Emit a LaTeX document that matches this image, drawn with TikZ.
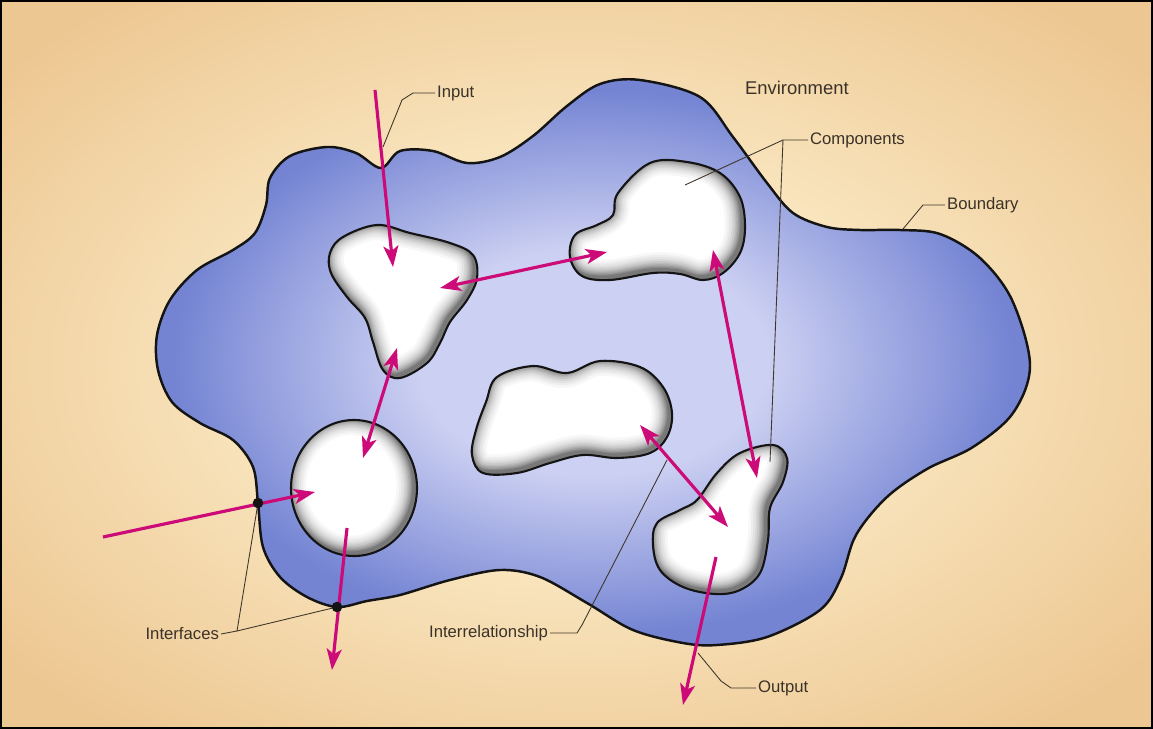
\documentclass[tikz,border=0pt]{standalone}
\usepackage{fontspec}
\setmainfont{Liberation Sans}
\usepackage{tikz}
\usetikzlibrary{arrows.meta}
\definecolor{bglight}{RGB}{249,229,190}
\definecolor{bgdark}{RGB}{237,199,146}
\definecolor{bloblight}{RGB}{204,208,242}
\definecolor{blobdark}{RGB}{116,132,211}
\definecolor{figline}{RGB}{20,20,20}
\definecolor{leadline}{RGB}{62,54,42}
\definecolor{figtext}{RGB}{58,50,40}
\definecolor{flowmag}{RGB}{204,10,120}
\pgfdeclareradialshading{bgshade}{\pgfpoint{0bp}{0bp}}{color(0bp)=(bglight); color(14bp)=(bglight); color(32bp)=(bgdark); color(50bp)=(bgdark)}
\pgfdeclareradialshading{blobshade}{\pgfpoint{0bp}{0bp}}{color(0bp)=(bloblight); color(10bp)=(bloblight); color(24bp)=(blobdark); color(50bp)=(blobdark)}
\tikzset{
  sysline/.style ={draw=figline, line width=1.4pt},
  cmpline/.style ={draw=figline, line width=1.2pt},
  lead/.style    ={draw=leadline, line width=0.5pt},
  lbl/.style     ={font=\fontsize{9.5}{11}\selectfont, text=figtext, inner sep=1pt},
  envlbl/.style  ={font=\fontsize{10.5}{12}\selectfont, text=figtext, inner sep=1pt},
  flow/.style    ={draw=flowmag, line width=1.8pt, -{Stealth[length=12pt,width=8.5pt,inset=3pt]}},
  flowtwo/.style ={draw=flowmag, line width=1.8pt, {Stealth[length=12pt,width=8.5pt,inset=3pt]}-{Stealth[length=12pt,width=8.5pt,inset=3pt]}},
}
% outlines, in pixel units of the picture
\newcommand\syspath{plot[smooth cycle,tension=0.55] coordinates {(258,503) (263,547) (280,577) (307,597) (337,607) (367,601) (400,595) (450,580) (500,570) (540,577) (587,603) (633,630) (683,643) (717,645) (767,637) (820,610) (841,578) (856,535) (887,497) (927,469) (973,447) (1013,413) (1030,365) (1012,300) (980,258) (940,234) (900,230) (860,230) (827,227) (793,213) (767,183) (733,137) (700,97) (640,80) (600,84) (567,106) (533,136) (500,157) (467,163) (433,151) (400,151) (381,168) (356,153) (327,147) (290,156) (270,178) (266,205) (255,233) (233,250) (197,270) (170,300) (157,335) (158,370) (172,402) (200,423) (233,440) (253,467)}}
\newcommand\cmpA{plot[smooth cycle,tension=0.6] coordinates {(330,253) (343,237) (377,225) (410,233) (450,243) (473,255) (477,278) (467,300) (450,322) (440,343) (427,363) (400,378) (383,370) (373,342) (365,318) (347,297) (331,273)}}
\newcommand\cmpB{plot[smooth cycle,tension=0.6] coordinates {(618,193) (650,163) (687,162) (720,173) (740,197) (745,227) (740,253) (723,273) (703,280) (680,274) (653,273) (610,280) (582,276) (570,257) (575,235) (597,225) (613,215)}}
\newcommand\cmpC{plot[smooth cycle,tension=0.6] coordinates {(497,377) (533,366) (567,373) (600,361) (640,367) (663,387) (672,413) (667,437) (650,453) (617,458) (583,455) (550,463) (517,473) (483,473) (472,455) (476,430) (486,402)}}
\newcommand\cmpD{(354,488) ellipse [x radius=1.26cm, y radius=1.36cm]}
\newcommand\cmpE{plot[smooth cycle,tension=0.6] coordinates {(657,523) (680,510) (697,500) (717,473) (740,453) (773,445) (787,458) (783,482) (770,508) (768,540) (760,573) (740,590) (715,594) (683,587) (660,570) (653,545)}}
\newcommand\cmpshadow[1]{%
  \begin{scope}
    \clip #1;
    \fill[white] #1;
    \foreach \w/\c in {20/3, 17/7, 14.5/11, 12/16, 10/21, 8/27, 6.5/33, 5/39, 3.5/46, 2.2/53}
      \draw[shift={(-1.5pt,1.5pt)}, line width=\w pt, draw=black!\c] #1;
  \end{scope}
  \draw[cmpline] #1;}

\begin{document}
\begin{tikzpicture}[x=0.02cm,y=-0.02cm]
  \useasboundingbox (0,0) rectangle (1153,729);
  \shade[shading=bgshade] (0,0) rectangle (1153,729);
  \draw[line width=1.2pt] (1,1) rectangle (1152,728);
  % system
  \shade[shading=blobshade] \syspath;
  \cmpshadow{\cmpA}
  \cmpshadow{\cmpB}
  \cmpshadow{\cmpC}
  \cmpshadow{\cmpD}
  \cmpshadow{\cmpE}
  \draw[sysline] \syspath;
  % labels
  \node[lbl, anchor=west] (lblin) at (435,93) {Input};
  \node[envlbl, anchor=west] (lblenv) at (743,88) {Environment};
  \node[lbl, anchor=west] (lblcmp) at (808,140) {Components};
  \node[lbl, anchor=west] (lblbnd) at (945,205) {Boundary};
  \node[lbl, anchor=east] (lblif) at (221,634) {Interfaces};
  \node[lbl, anchor=east] (lblrel) at (550,633) {Interrelationship};
  \node[lbl, anchor=west] (lblout) at (756,688) {Output};
  % leader ends
  \coordinate (ifa) at (258,503);
  \coordinate (ifb) at (337,607);
  \coordinate (ifk) at (237,631);
  \coordinate (cmpk) at (783,140);
  \coordinate (cmptop) at (685,185);
  \coordinate (cmpbot) at (770,462);
  \coordinate (bndk) at (923,205);
  \coordinate (bndp) at (903,229);
  \coordinate (ink) at (413,93);
  \coordinate (inp) at (383,147);
  \coordinate (relk) at (577,633);
  \coordinate (relp) at (667,460);
  \coordinate (outk) at (731,688);
  \coordinate (outp) at (698,653);
  % leaders
  \draw[lead] (lblin.west) -- (ink) -- (402,100) -- (inp);
  \draw[lead] (lblcmp.west) -- (cmpk) -- (cmptop);
  \draw[lead] (cmpk) -- (cmpbot);
  \draw[lead] (lblbnd.west) -- (bndk) -- (bndp);
  \draw[lead] (lblif.east) -- (ifk) -- (ifa);
  \draw[lead] (ifk) -- (ifb);
  \draw[lead] (lblrel.east) -- (relk) -- (582,625) -- (relp);
  \draw[lead] (lblout.west) -- (outk) -- (721,681) -- (outp);
  % flows
  \coordinate (in1s) at (375,90);   \coordinate (in1e) at (393,267);
  \coordinate (in2s) at (103,537);  \coordinate (in2e) at (315,492);
  \coordinate (out1s) at (347,528); \coordinate (out1e) at (332,670);
  \coordinate (out2s) at (716,557); \coordinate (out2e) at (683,705);
  \coordinate (ab1) at (440,288);   \coordinate (ab2) at (607,252);
  \coordinate (ad1) at (397,348);   \coordinate (ad2) at (363,458);
  \coordinate (be1) at (713,250);   \coordinate (be2) at (757,478);
  \coordinate (ce1) at (640,425);   \coordinate (ce2) at (728,527);
  \draw[flow] (in1s) -- (in1e);
  \draw[flow] (in2s) -- (in2e);
  \draw[flow] (out1s) -- (out1e);
  \draw[flow] (out2s) -- (out2e);
  \draw[flowtwo] (ab1) -- (ab2);
  \draw[flowtwo] (ad1) -- (ad2);
  \draw[flowtwo] (be1) -- (be2);
  \draw[flowtwo] (ce1) -- (ce2);
  % interfaces
  \fill[figline] (ifa) circle[radius=3pt];
  \fill[figline] (ifb) circle[radius=3pt];
\end{tikzpicture}
\end{document}
